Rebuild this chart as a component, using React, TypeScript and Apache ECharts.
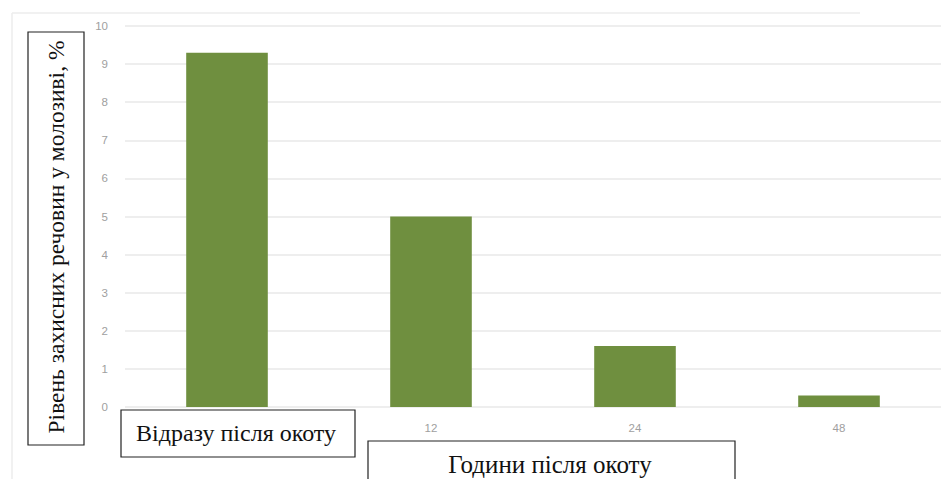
import React, { useEffect, useRef } from "react";
import * as echarts from "echarts";

const categories = ["0", "12", "24", "48"];
const values = [9.3, 5.0, 1.6, 0.3];
const yAxisTitle = "Рівень захисних речовин у молозиві, %";
const firstCategoryTitle = "Відразу після окоту";
const xAxisTitle = "Години після окоту";

export default function App() {
  const ref = useRef<HTMLDivElement>(null);
  useEffect(() => {
    if (!ref.current) return;
    const chart = echarts.init(ref.current, undefined, { renderer: "svg" });
    const serif = "Liberation Serif";
    chart.setOption({
      animation: false,
      backgroundColor: "#ffffff",
      grid: { left: 125, right: 6, top: 26, bottom: 72, containLabel: false },
      xAxis: {
        type: "category",
        data: categories,
        axisLine: { show: false },
        axisTick: { show: false },
        axisLabel: {
          color: "#a0a0a0",
          fontSize: 11.5,
          margin: 15,
          fontFamily: "Arial, sans-serif",
          formatter: (v: string, i: number) => (i === 0 ? "" : v),
        },
      },
      yAxis: {
        type: "value",
        min: 0,
        max: 10,
        interval: 1,
        axisLine: { show: false },
        axisTick: { show: false },
        axisLabel: { color: "#a0a0a0", fontSize: 11.5, margin: 17, fontFamily: "Arial, sans-serif" },
        splitLine: { lineStyle: { color: "#e8e8e8", width: 1.5 } },
      },
      series: [
        {
          type: "bar",
          data: values,
          barWidth: "40%",
          itemStyle: { color: "#6f8f3f" },
        },
      ],
      graphic: [
        {
          type: "line",
          shape: { x1: 12, y1: 13, x2: 860, y2: 13 },
          style: { stroke: "#ececec", lineWidth: 1.5 },
          z: 1,
        },
        {
          type: "line",
          shape: { x1: 12, y1: 13, x2: 12, y2: 479 },
          style: { stroke: "#ececec", lineWidth: 1.5 },
          z: 1,
        },
        {
          type: "rect",
          shape: { x: 28, y: 32, width: 56, height: 413 },
          style: { fill: "#ffffff", stroke: "#222", lineWidth: 1.2 },
          z: 10,
        },
        {
          type: "text",
          x: 56,
          y: 237,
          rotation: Math.PI / 2,
          style: {
            text: yAxisTitle,
            fontFamily: serif,
            fontSize: 23.5,
            fill: "#111",
            align: "center",
            verticalAlign: "middle",
          },
          z: 11,
        },
        {
          type: "rect",
          shape: { x: 121, y: 410, width: 234, height: 47 },
          style: { fill: "#ffffff", stroke: "#222", lineWidth: 1.2 },
          z: 10,
        },
        {
          type: "text",
          x: 236,
          y: 433,
          style: {
            text: firstCategoryTitle,
            fontFamily: serif,
            fontSize: 24,
            fill: "#111",
            align: "center",
            verticalAlign: "middle",
          },
          z: 11,
        },
        {
          type: "rect",
          shape: { x: 368, y: 441, width: 367, height: 45 },
          style: { fill: "#ffffff", stroke: "#222", lineWidth: 1.2 },
          z: 10,
        },
        {
          type: "text",
          x: 550,
          y: 464,
          style: {
            text: xAxisTitle,
            fontFamily: serif,
            fontSize: 25,
            fill: "#111",
            align: "center",
            verticalAlign: "middle",
          },
          z: 11,
        },
      ],
    });
    return () => chart.dispose();
  }, []);
  return (
    <div
      ref={ref}
      style={{ position: "fixed", left: 0, top: 0, width: 947, height: 479 }}
    />
  );
}
